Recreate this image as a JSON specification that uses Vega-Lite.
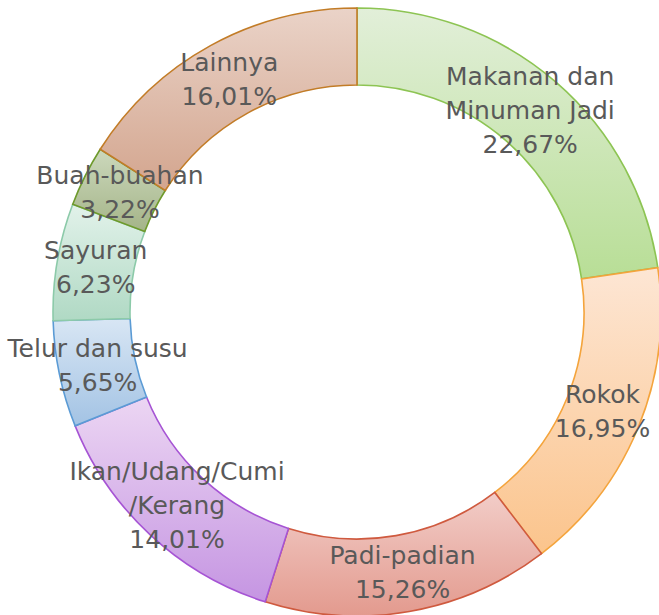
{
  "$schema": "https://vega.github.io/schema/vega-lite/v6.json",
  "width": 714,
  "height": 624,
  "autosize": {"type": "none"},
  "padding": {"left": 0, "top": 0, "right": -55, "bottom": -9},
  "background": "white",
  "view": {"stroke": null},
  "data": {
    "values": [
      {"idx": 1, "cat": "Makanan dan Minuman Jadi", "label": "Makanan dan\nMinuman Jadi\n22,67%", "pct": 22.67},
      {"idx": 2, "cat": "Rokok", "label": "Rokok\n16,95%", "pct": 16.95},
      {"idx": 3, "cat": "Padi-padian", "label": "Padi-padian\n15,26%", "pct": 15.26},
      {"idx": 4, "cat": "Ikan/Udang/Cumi/Kerang", "label": "Ikan/Udang/Cumi\n/Kerang\n14,01%", "pct": 14.01},
      {"idx": 5, "cat": "Telur dan susu", "label": "Telur dan susu\n5,65%", "pct": 5.65},
      {"idx": 6, "cat": "Sayuran", "label": "Sayuran\n6,23%", "pct": 6.23},
      {"idx": 7, "cat": "Buah-buahan", "label": "Buah-buahan\n3,22%", "pct": 3.22},
      {"idx": 8, "cat": "Lainnya", "label": "Lainnya\n16,01%", "pct": 16.01}
    ]
  },
  "encoding": {
    "theta": {"field": "pct", "type": "quantitative", "stack": true},
    "order": {"field": "idx", "type": "quantitative"}
  },
  "layer": [
    {
      "mark": {"type": "arc", "outerRadius": 304, "innerRadius": 227, "strokeWidth": 1.6},
      "encoding": {
        "fill": {
          "condition": [
            {"test": "datum.cat === 'Makanan dan Minuman Jadi'", "value": {"gradient": "linear", "x1": 0, "y1": 0, "x2": 0, "y2": 1, "stops": [{"offset": 0, "color": "#e2efd9"}, {"offset": 1, "color": "#b8de96"}]}},
            {"test": "datum.cat === 'Rokok'", "value": {"gradient": "linear", "x1": 0, "y1": 0, "x2": 0, "y2": 1, "stops": [{"offset": 0, "color": "#fde6d4"}, {"offset": 1, "color": "#fbc48c"}]}},
            {"test": "datum.cat === 'Padi-padian'", "value": {"gradient": "linear", "x1": 0, "y1": 0, "x2": 0, "y2": 1, "stops": [{"offset": 0, "color": "#f2cdc8"}, {"offset": 1, "color": "#e39a8e"}]}},
            {"test": "datum.cat === 'Ikan/Udang/Cumi/Kerang'", "value": {"gradient": "linear", "x1": 0, "y1": 0, "x2": 0, "y2": 1, "stops": [{"offset": 0, "color": "#ecd6f3"}, {"offset": 1, "color": "#c595e2"}]}},
            {"test": "datum.cat === 'Telur dan susu'", "value": {"gradient": "linear", "x1": 0, "y1": 0, "x2": 0, "y2": 1, "stops": [{"offset": 0, "color": "#d8e6f4"}, {"offset": 1, "color": "#a3c3e4"}]}},
            {"test": "datum.cat === 'Sayuran'", "value": {"gradient": "linear", "x1": 0, "y1": 0, "x2": 0, "y2": 1, "stops": [{"offset": 0, "color": "#e2f2ea"}, {"offset": 1, "color": "#b0d9c4"}]}},
            {"test": "datum.cat === 'Buah-buahan'", "value": {"gradient": "linear", "x1": 0, "y1": 0, "x2": 0, "y2": 1, "stops": [{"offset": 0, "color": "#ccd8bc"}, {"offset": 1, "color": "#a4b488"}]}}
          ],
          "value": {"gradient": "linear", "x1": 0, "y1": 0, "x2": 0, "y2": 1, "stops": [{"offset": 0, "color": "#ead3c8"}, {"offset": 1, "color": "#d3a58e"}]}
        },
        "stroke": {
          "field": "cat",
          "type": "nominal",
          "legend": null,
          "scale": {
            "domain": ["Makanan dan Minuman Jadi", "Rokok", "Padi-padian", "Ikan/Udang/Cumi/Kerang", "Telur dan susu", "Sayuran", "Buah-buahan", "Lainnya"],
            "range": ["#8dc453", "#f4a43c", "#cf5a3f", "#a654d4", "#5b9bd5", "#8ccaa9", "#6e9a2c", "#c27c27"]
          }
        }
      }
    },
    {
      "mark": {"type": "text", "radius": 265, "dy": -17, "font": "DejaVu Sans", "fontSize": 25, "lineHeight": 34, "lineBreak": "\n", "color": "#595959", "align": "center", "baseline": "middle"},
      "encoding": {
        "text": {
          "condition": {"test": "datum.cat !== 'Makanan dan Minuman Jadi' && datum.cat !== 'Ikan/Udang/Cumi/Kerang'", "field": "label", "type": "nominal"},
          "value": ""
        }
      }
    },
    {
      "mark": {"type": "text", "radius": 265, "dy": -34, "font": "DejaVu Sans", "fontSize": 25, "lineHeight": 34, "lineBreak": "\n", "color": "#595959", "align": "center", "baseline": "middle"},
      "encoding": {
        "text": {
          "condition": {"test": "datum.cat === 'Makanan dan Minuman Jadi' || datum.cat === 'Ikan/Udang/Cumi/Kerang'", "field": "label", "type": "nominal"},
          "value": ""
        }
      }
    }
  ]
}
